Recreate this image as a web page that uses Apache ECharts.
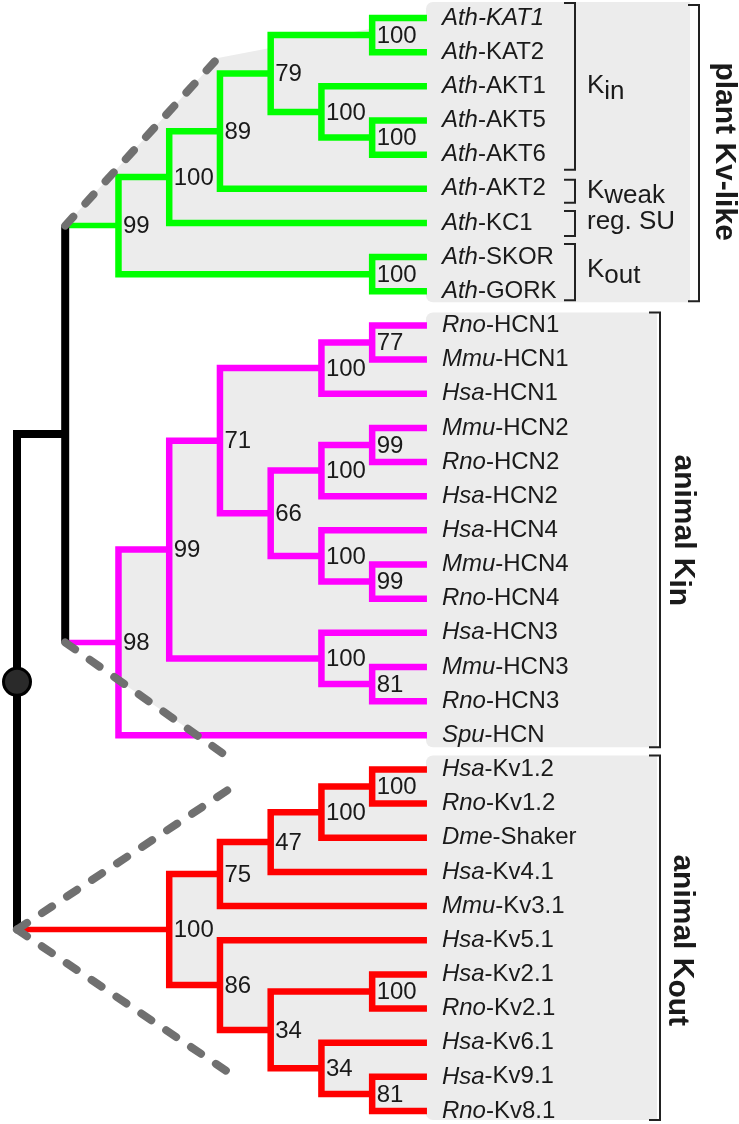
<!DOCTYPE html>
<html><head><meta charset="utf-8">
<script src="https://cdn.jsdelivr.net/npm/echarts@6/dist/echarts.min.js"></script>
<style>html,body{margin:0;padding:0;background:#fff}#chart{width:739px;height:1124px}</style>
</head><body><div id="chart"></div>
<script>
// ---------------- DATA ----------------
const leafSpecies = ['Ath','Ath','Ath','Ath','Ath','Ath','Ath','Ath','Ath',
  'Rno','Mmu','Hsa','Mmu','Rno','Hsa','Hsa','Mmu','Rno','Hsa','Mmu','Rno','Spu',
  'Hsa','Rno','Dme','Hsa','Mmu','Hsa','Hsa','Rno','Hsa','Hsa','Rno'];
const leafGenes = ['KAT1','KAT2','AKT1','AKT5','AKT6','AKT2','KC1','SKOR','GORK',
  'HCN1','HCN1','HCN1','HCN2','HCN2','HCN2','HCN4','HCN4','HCN4','HCN3','HCN3','HCN3','HCN',
  'Kv1.2','Kv1.2','Shaker','Kv4.1','Kv3.1','Kv5.1','Kv2.1','Kv2.1','Kv6.1','Kv9.1','Kv8.1'];
const italicLeaves = [0]; // Ath-KAT1 fully italic

const nodeIds = ['kat','akt56','akt1','p79','p89','p100','skor','p99',
  'h77','h100a','h99b','h100b','h99c','h100c','h66','h71','h81','h100d','h99','h98',
  'k12','k100f','k47','k75','k21','k98','k34a','k34b','k86','k100','nA','root'];
const nodeChildren = [[0,1],[3,4],[2,'akt56'],['kat','akt1'],['p79',5],['p89',6],[7,8],['p100','skor'],
  [9,10],['h77',11],[12,13],['h99b',14],[16,17],[15,'h99c'],['h100b','h100c'],['h100a','h66'],[19,20],[18,'h81'],['h71','h100d'],['h99',21],
  [22,23],['k12',24],['k100f',25],['k47',26],[28,29],[31,32],[30,'k98'],['k21','k34a'],[27,'k34b'],['k75','k86'],
  ['p99','h98'],['nA','k100']];
const nodeSupport = [100,100,100,79,89,100,100,99,
  77,100,99,100,99,100,66,71,81,100,99,98,
  100,100,47,75,100,81,34,34,86,100,null,null];
const nodeDepth = [7,7,6,5,4,3,7,2,
  7,6,7,6,7,6,5,4,7,6,3,2,
  7,6,5,4,7,7,6,5,4,3,0.95,0];
const nodeClade = [0,0,0,0,0,0,0,0, 1,1,1,1,1,1,1,1,1,1,1,1, 2,2,2,2,2,2,2,2,2,2, -1,-1];
const LEAF_DEPTH = 8.08;

const cladeLabelMain = ['plant Kv-like','animal K','animal K'];
const cladeLabelSub  = ['','in','out'];
const cladeLeafFirst = [0,9,22];
const cladeLeafLast  = [8,21,32];
const subLabelMain = ['K','K','reg. SU','K'];
const subLabelSub  = ['in','weak','','out'];
const subLeafFirst = [0,5,6,7];
const subLeafLast  = [4,5,6,8];

// ---------------- DERIVED ----------------
const idx = {}; nodeIds.forEach((id,i)=>idx[id]=i);
const nodeY = [];
function yOf(c){ return typeof c === 'number' ? c : nodeY[idx[c]]; }
function dOf(c){ return typeof c === 'number' ? LEAF_DEPTH : nodeDepth[idx[c]]; }
nodeIds.forEach((id,i)=>{ const [a,b]=nodeChildren[i]; nodeY[i]=(yOf(a)+yOf(b))/2; });

// ---------------- STYLE ----------------
const FF = '"Liberation Sans", Arial, sans-serif';
const TXT = '#1a1a1a';
const GRAY = '#ececec';
const LBL = 24;
const cladeColors = ['#00ff00','#ff00ff','#ff0000'];
const mctx = document.createElement('canvas').getContext('2d');
function textW(font, s){ mctx.font = font; return mctx.measureText(s).width; }

const chart = echarts.init(document.getElementById('chart'));

function renderGray(params, api){
  const P = (d,i)=>api.coord([d,i]);
  const ch = [];
  const pA = P(nodeDepth[idx.nA], nodeY[idx.p99]);
  const pE = P(3.96, 1.17);
  ch.push({type:'polygon', shape:{points:[pA, pE, P(LEAF_DEPTH,0), P(LEAF_DEPTH,nodeY[idx.p99])]}, style:{fill:GRAY}});
  nodeIds.forEach((id,n)=>{
    if(nodeClade[n] < 0) return;
    const [c1,c2] = nodeChildren[n];
    const a = P(nodeDepth[n], yOf(c1)), b = P(LEAF_DEPTH, yOf(c2));
    ch.push({type:'rect', shape:{x:a[0], y:a[1], width:b[0]-a[0]+1, height:b[1]-a[1]}, style:{fill:GRAY}});
  });
  const blocks = [{right:690, top:-16, bot:11},{right:657, top:-13, bot:12},{right:657, top:-14, bot:9}];
  blocks.forEach((b,k)=>{
    const t = P(LEAF_DEPTH, cladeLeafFirst[k])[1] + b.top;
    const bt = P(LEAF_DEPTH, cladeLeafLast[k])[1] + b.bot;
    const x0 = P(LEAF_DEPTH,0)[0] - 1;
    ch.push({type:'rect', shape:{x:x0, y:t, width:b.right-x0, height:bt-t, r:[7,0,0,7]}, style:{fill:GRAY}});
  });
  const A = P(nodeDepth[idx.nA], nodeY[idx.h98]), B = P(4.16, 21.64);
  const x0 = P(nodeDepth[idx.h98], 0)[0] - 4;
  const yAt = A[1] + (x0-A[0])*(B[1]-A[1])/(B[0]-A[0]);
  const yb = P(0, 21)[1] + 5;
  const xAt = A[0] + (yb-A[1])*(B[0]-A[0])/(B[1]-A[1]);
  ch.push({type:'polygon', shape:{points:[[x0,yAt],[xAt,yb],[x0,yb]]}, style:{fill:'#fff'}});
  return {type:'group', children:ch};
}

function renderTree(params, api){
  const n = params.dataIndex;
  const P = (d,i)=>api.coord([d,i]);
  const [c1,c2] = nodeChildren[n];
  const d = nodeDepth[n];
  const ch = [];
  if(nodeClade[n] >= 0){
    const col = cladeColors[nodeClade[n]];
    ch.push({type:'polyline', shape:{points:[P(dOf(c1),yOf(c1)), P(d,yOf(c1)), P(d,yOf(c2)), P(dOf(c2),yOf(c2))]},
      style:{stroke:col, lineWidth:6.5, fill:null, lineJoin:'miter', lineCap:'butt'}});
    const p = P(d, nodeY[n]);
    ch.push({type:'text', x:p[0]+4.5, y:p[1]+1, style:{text:String(nodeSupport[n]), font:'24px '+FF, fill:TXT, align:'left', verticalAlign:'middle'}});
  } else if(nodeIds[n] === 'nA'){
    [c1,c2].forEach(c=>{
      const col = cladeColors[nodeClade[idx[c]]];
      ch.push({type:'polyline', shape:{points:[P(d,yOf(c)), P(dOf(c),yOf(c))]}, style:{stroke:col, lineWidth:5.5, fill:null}});
    });
    ch.push({type:'polyline', shape:{points:[P(d,yOf(c1)), P(d,yOf(c2))]}, style:{stroke:'#000', lineWidth:8, fill:null}});
  } else {
    ch.push({type:'polyline', shape:{points:[P(d,yOf(c2)), P(dOf(c2),yOf(c2))]}, style:{stroke:cladeColors[nodeClade[idx[c2]]], lineWidth:5.5, fill:null}});
    ch.push({type:'polyline', shape:{points:[P(dOf(c1),yOf(c1)), P(d,yOf(c1)), P(d,yOf(c2))]}, style:{stroke:'#000', lineWidth:8, fill:null, lineJoin:'miter'}});
    const p = P(d, nodeY[n]);
    ch.push({type:'circle', shape:{cx:p[0], cy:p[1], r:13.5}, style:{fill:'#2a2a2a', stroke:'#000', lineWidth:3}});
  }
  return {type:'group', children:ch};
}

function renderDashed(params, api){
  const P = (d,i)=>api.coord([d,i]);
  const segs = [
    [P(nodeDepth[idx.nA], nodeY[idx.p99]), P(3.96, 1.17)],
    [P(nodeDepth[idx.nA], nodeY[idx.h98]), P(4.16, 21.64)],
    [P(nodeDepth[idx.root], nodeY[idx.k100]), P(4.16, 22.6)],
    [P(nodeDepth[idx.root], nodeY[idx.k100]), P(4.16, 30.86)]
  ];
  return {type:'group', children: segs.map(([a,b])=>({type:'line', shape:{x1:a[0],y1:a[1],x2:b[0],y2:b[1]},
    style:{stroke:'#707070', lineWidth:8, lineDash:[12,18], lineCap:'round'}}))};
}

function renderAnno(params, api){
  const Y = i => api.coord([0,i])[1];
  const ch = [];
  const br = (x, t, b) => ch.push({type:'polyline', shape:{points:[[x-11,t],[x,t],[x,b],[x-11,b]]}, style:{stroke:'#222', lineWidth:2, fill:null}});
  const mainX = [699, 660, 660], mainTop = [-13,-13,-14], mainBot = [10,12,9], mainDy = [-3,0,0], mainDx = [25,23,22];
  for(let k=0;k<3;k++){
    const t = Y(cladeLeafFirst[k]) + mainTop[k], b = Y(cladeLeafLast[k]) + mainBot[k];
    br(mainX[k], t, b);
    const f = 'bold 30px '+FF;
    const w1 = textW(f, cladeLabelMain[k]), w2 = textW(f, cladeLabelSub[k]);
    const W = w1 + w2;
    const cy = (Y(cladeLeafFirst[k]) + Y(cladeLeafLast[k]))/2 + mainDy[k];
    ch.push({type:'group', x: mainX[k]+mainDx[k], y: cy, rotation: -Math.PI/2, children:[
      {type:'text', x:-W/2, y:0, style:{text:cladeLabelMain[k], font:f, fill:TXT, align:'left', verticalAlign:'middle'}},
      {type:'text', x:-W/2+w1, y:5, style:{text:cladeLabelSub[k], font:f, fill:TXT, align:'left', verticalAlign:'middle'}}
    ]});
  }
  const subTop = [-15,-9,-12,-13], subBot = [15,14,13,9], subDy = [0,2,-1,-4];
  for(let k=0;k<4;k++){
    const t = Y(subLeafFirst[k]) + subTop[k], b = Y(subLeafLast[k]) + subBot[k];
    br(575, t, b);
    const f = '26px '+FF;
    const cy = (Y(subLeafFirst[k]) + Y(subLeafLast[k]))/2 + subDy[k];
    const w1 = textW(f, subLabelMain[k]);
    ch.push({type:'text', x:587, y:cy, style:{text:subLabelMain[k], font:f, fill:TXT, align:'left', verticalAlign:'middle'}});
    if(subLabelSub[k]) ch.push({type:'text', x:587+w1, y:cy+5.5, style:{text:subLabelSub[k], font:f, fill:TXT, align:'left', verticalAlign:'middle'}});
  }
  return {type:'group', children:ch};
}

const option = {
  animation: false,
  backgroundColor: '#fff',
  grid: {left:17, top:18, width:405.9, height:1093, containLabel:false, outerBoundsMode:'none'},
  xAxis: {type:'value', min:0, max:8, show:false},
  yAxis: {type:'value', min:0, max:32, interval:1, inverse:true, position:'right',
    axisLine:{show:false}, axisTick:{show:false}, splitLine:{show:false},
    axisLabel:{margin:19, align:'left', verticalAlign:'middle', fontSize:LBL, fontFamily:FF, color:TXT,
      formatter: v => { const i = Math.round(v);
        if(italicLeaves.includes(i)) return '{it|' + leafSpecies[i] + '-' + leafGenes[i] + '}';
        return '{it|' + leafSpecies[i] + '}{rg|-' + leafGenes[i] + '}'; },
      rich:{ it:{fontStyle:'italic', fontSize:LBL, fontFamily:FF, color:TXT}, rg:{fontSize:LBL, fontFamily:FF, color:TXT} }}
  },
  series: [
    {type:'custom', z:-1, silent:true, clip:false, data:[[0,0]], renderItem: renderGray},
    {type:'custom', z:2, silent:true, clip:false, data:nodeIds.map(()=>[0,0]), renderItem: renderTree},
    {type:'custom', z:3, silent:true, clip:false, data:[[0,0]], renderItem: renderDashed},
    {type:'custom', z:4, silent:true, clip:false, data:[[0,0]], renderItem: renderAnno}
  ]
};
chart.setOption(option);
</script></body></html>
